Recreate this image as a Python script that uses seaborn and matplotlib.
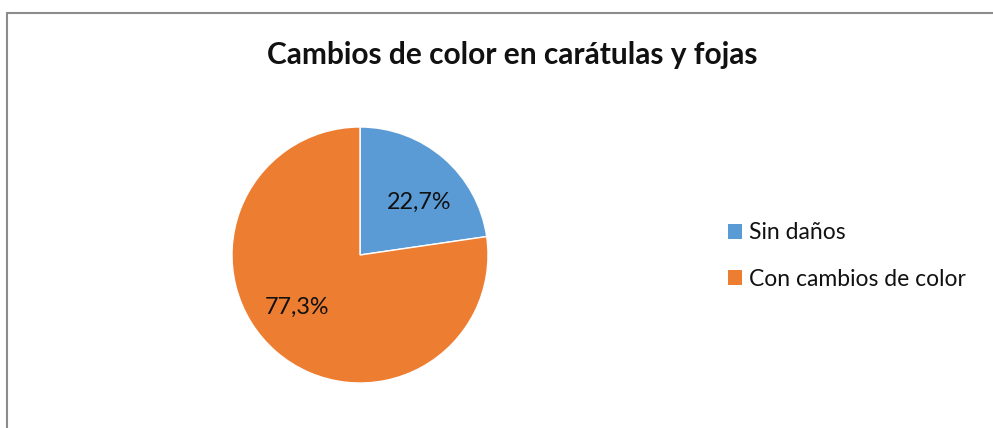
import matplotlib
matplotlib.use("Agg")
import matplotlib.pyplot as plt
import seaborn as sns
from matplotlib.patches import Rectangle, Patch

categories = ["Sin daños", "Con cambios de color"]
values = [22.7, 77.3]
colors = ["#5B9BD5", "#ED7D31"]
title = "Cambios de color en carátulas y fojas"

sns.set_theme(style="white")
plt.rcParams["font.family"] = ["Lato", "DejaVu Sans"]

W, H = 993, 428
fig = plt.figure(figsize=(W / 100, H / 100), dpi=100)
fig.patch.set_facecolor("white")

# chart frame (left and top edges visible)
fig.add_artist(Rectangle((6.5 / W, -0.1), 1.2, 1.1 - 12.5 / H,
                         transform=fig.transFigure, fill=False,
                         edgecolor="#8c8c8c", linewidth=1.5))

cx, cy, r = 360, 255, 128
ax = fig.add_axes([(cx - r) / W, (H - cy - r) / H, 2 * r / W, 2 * r / H])
wedges, texts, autotexts = ax.pie(
    values, colors=colors, startangle=90, counterclock=False,
    autopct=lambda p: f"{p:.1f}%".replace(".", ","), pctdistance=0.62,
    wedgeprops=dict(edgecolor="white", linewidth=1),
    textprops=dict(fontsize=16.8, color="#111111"))
ax.set_xlim(-1, 1)
ax.set_ylim(-1, 1)
ax.set_aspect("equal")
ax.axis("off")

label_pos = [(59 / r, 53 / r), (-63 / r, -52 / r)]
for t, pos in zip(autotexts, label_pos):
    t.set_position(pos)

fig.text(512 / W, 1 - 55 / H, title, ha="center", va="center",
         fontsize=21.5, fontweight="bold", color="#111111")

handles = [Patch(facecolor=c, edgecolor="none", label=l)
           for c, l in zip(colors, categories)]
fig.legend(handles=handles, loc="center left",
           bbox_to_anchor=(728 / W, 1 - 256 / H), frameon=False,
           borderpad=0, borderaxespad=0,
           fontsize=16.5, handlelength=0.62, handleheight=0.62,
           handletextpad=0.3, labelspacing=1.1, labelcolor="#111111")

fig.savefig("out.png", dpi=100)
